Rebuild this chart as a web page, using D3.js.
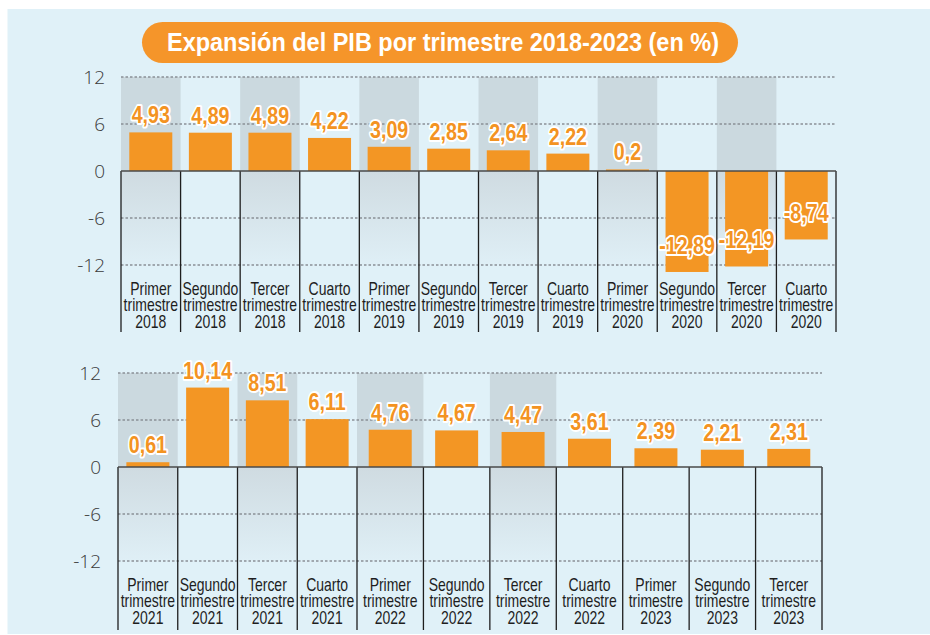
<!DOCTYPE html>
<html>
<head>
<meta charset="utf-8">
<script src="https://cdnjs.cloudflare.com/ajax/libs/d3/7.8.5/d3.min.js"></script>
<style>
  body { margin: 0; background: #fff; }
  .narrow { font-family: "Liberation Sans", Arial, sans-serif; }
</style>
</head>
<body>
<div id="chart"></div>
<script>
// data
const topCategories = [
  "Primer trimestre 2018", "Segundo trimestre 2018", "Tercer trimestre 2018", "Cuarto trimestre 2018",
  "Primer trimestre 2019", "Segundo trimestre 2019", "Tercer trimestre 2019", "Cuarto trimestre 2019",
  "Primer trimestre 2020", "Segundo trimestre 2020", "Tercer trimestre 2020", "Cuarto trimestre 2020"
];
const topValues = [4.93, 4.89, 4.89, 4.22, 3.09, 2.85, 2.64, 2.22, 0.2, -12.89, -12.19, -8.74];

const bottomCategories = [
  "Primer trimestre 2021", "Segundo trimestre 2021", "Tercer trimestre 2021", "Cuarto trimestre 2021",
  "Primer trimestre 2022", "Segundo trimestre 2022", "Tercer trimestre 2022", "Cuarto trimestre 2022",
  "Primer trimestre 2023", "Segundo trimestre 2023", "Tercer trimestre 2023"
];
const bottomValues = [0.61, 10.14, 8.51, 6.11, 4.76, 4.67, 4.47, 3.61, 2.39, 2.21, 2.31];

const yTicks = [12, 6, 0, -6, -12];
const title = "Expansión del PIB por trimestre 2018-2023 (en %)";

let width = 930;
let height = 635;

const bg = "#e0f1f8";
const orange = "#f39624";
// no condensed face installed, so squash Liberation Sans
const squeezeVal = 0.82;
const squeezeCat = 0.8;

let svg = d3.select("#chart")
  .append("svg")
  .attr("width", width)
  .attr("height", height);

// fade for the shaded columns below zero
let grad = svg.append("defs").append("linearGradient")
  .attr("id", "fade")
  .attr("x1", 0).attr("y1", 0).attr("x2", 0).attr("y2", 1);
grad.append("stop").attr("offset", "0%").attr("stop-color", "#cfdbe1");
grad.append("stop").attr("offset", "100%").attr("stop-color", "#dfeff6");

svg.append("rect")
  .attr("x", 7.5).attr("y", 9)
  .attr("width", width - 7.5).attr("height", 625)
  .attr("fill", bg);

// title pill
svg.append("rect")
  .attr("x", 142).attr("y", 22)
  .attr("width", 596).attr("height", 41)
  .attr("rx", 20.5)
  .attr("fill", "#f5952a");

svg.append("text")
  .attr("class", "narrow")
  .attr("x", 443).attr("y", 51)
  .attr("text-anchor", "middle")
  .attr("fill", "#fff")
  .attr("font-size", 25)
  .attr("font-weight", "bold")
  .attr("textLength", 552)
  .attr("lengthAdjust", "spacingAndGlyphs")
  .text(title);

function fmt(v) {
  return String(v).replace(".", ",");
}

function drawPanel(cats, vals, opts) {
  let g = svg.append("g");

  // column boundaries (index -> x)
  let x = d3.scaleLinear().domain(opts.xDomain).range(opts.xRange);
  let y = d3.scaleLinear().domain([-12, 12]).range([opts.zeroY + 94, opts.zeroY - 94]);
  let mid = i => (x(i) + x(i + 1)) / 2;

  let left = opts.xRange[0];
  let right = opts.xRange[opts.xRange.length - 1];
  let idx = d3.range(cats.length);

  // shaded columns (Primer / Tercer, through opts.shadeCount columns)
  let shaded = idx.filter(i => i % 2 === 0 && i < opts.shadeCount);
  g.selectAll(".shade-up")
    .data(shaded)
    .enter()
    .append("rect")
      .attr("x", i => x(i))
      .attr("width", i => x(i + 1) - x(i))
      .attr("y", y(12))
      .attr("height", y(0) - y(12))
      .attr("fill", "#cbd9df");
  g.selectAll(".shade-down")
    .data(shaded)
    .enter()
    .append("rect")
      .attr("x", i => x(i))
      .attr("width", i => x(i + 1) - x(i))
      .attr("y", y(0))
      .attr("height", y(-12) - y(0))
      .attr("fill", "url(#fade)");

  // dotted grid
  g.selectAll(".grid")
    .data(yTicks.filter(t => t !== 0))
    .enter()
    .append("line")
      .attr("x1", left).attr("x2", right)
      .attr("y1", d => y(d)).attr("y2", d => y(d))
      .attr("stroke", "#8a9096")
      .attr("stroke-width", 1.3)
      .attr("stroke-dasharray", "2.5,2");

  // y axis labels
  let axis = g.append("g")
    .attr("transform", "translate(" + left + ",0)")
    .call(d3.axisLeft(y).tickValues(yTicks).tickSize(0).tickPadding(opts.tickPad).tickFormat(d => d));
  axis.select(".domain").remove();
  axis.selectAll("text")
    .attr("font-family", "'Open Sans', sans-serif")
    .attr("font-weight", 300)
    .attr("font-size", 19)
    .attr("fill", "#3a3a3a");

  // bars
  let bw = 43;
  g.selectAll(".bar")
    .data(vals)
    .enter()
    .append("rect")
      .attr("x", (d, i) => mid(i) - bw / 2)
      .attr("width", bw)
      .attr("y", d => y(Math.max(0, d)))
      .attr("height", d => Math.abs(y(d) - y(0)))
      .attr("fill", orange);

  // vertical separators below zero
  g.selectAll(".sep")
    .data(d3.range(cats.length + 1))
    .enter()
    .append("line")
      .attr("x1", i => x(i)).attr("x2", i => x(i))
      .attr("y1", y(0)).attr("y2", y(0) + opts.sepLen)
      .attr("stroke", "#1e1e1e")
      .attr("stroke-width", 1.3);

  // zero line
  g.append("line")
    .attr("x1", left).attr("x2", right)
    .attr("y1", y(0)).attr("y2", y(0))
    .attr("stroke", "#4a4a4a")
    .attr("stroke-width", 1.6);

  // value labels
  g.selectAll(".val")
    .data(vals)
    .enter()
    .append("text")
      .attr("class", "narrow")
      .attr("transform", (d, i) => "translate(" + mid(i) + "," + (d >= 0 ? y(d) - 9 : y(d) - 18) + ") scale(" + squeezeVal + ",1)")
      .attr("text-anchor", "middle")
      .attr("font-size", 24)
      .attr("font-weight", "bold")
      .attr("fill", "#f39322")
      .attr("stroke", "#fff")
      .attr("stroke-width", 4)
      .attr("stroke-linejoin", "round")
      .attr("paint-order", "stroke")
      .text(d => fmt(d));

  // category labels, three lines each
  let cat = g.selectAll(".cat")
    .data(cats)
    .enter()
    .append("text")
      .attr("class", "narrow")
      .attr("transform", (d, i) => "translate(" + mid(i) + "," + (y(-12) + 30) + ") scale(" + squeezeCat + ",1)")
      .attr("text-anchor", "middle")
      .attr("font-size", 17.5)
      .attr("fill", "#1e1e1e");
  cat.selectAll("tspan")
    .data(d => d.split(" "))
    .enter()
    .append("tspan")
      .attr("x", 0)
      .attr("dy", (d, i) => i === 0 ? 0 : 16.5)
      .text(d => d);
}

drawPanel(topCategories, topValues, {
  xDomain: [0, 12], xRange: [121, 836],
  zeroY: 171, shadeCount: 12, tickPad: 16, sepLen: 161
});

drawPanel(bottomCategories, bottomValues, {
  xDomain: [0, 4, 11], xRange: [118, 357, 822],
  zeroY: 467, shadeCount: 8, tickPad: 17, sepLen: 163
});
</script>
</body>
</html>
